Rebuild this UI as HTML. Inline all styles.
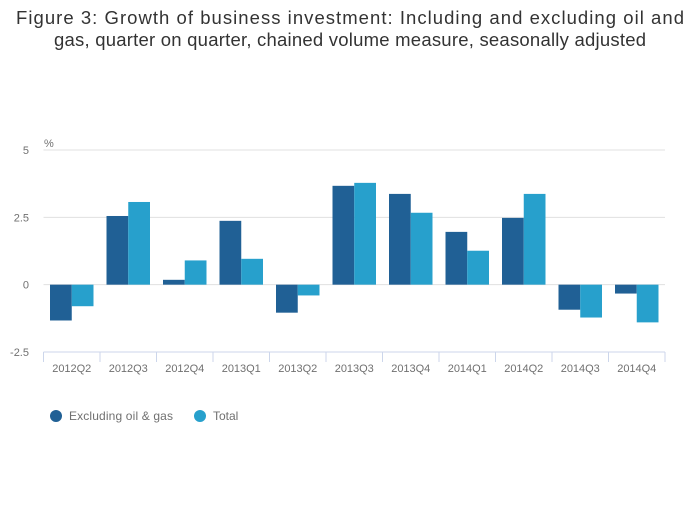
<!DOCTYPE html>
<html><head><meta charset="utf-8"><style>
body{margin:0;background:#fff;font-family:"Liberation Sans",sans-serif}
</style></head><body>
<svg width="700" height="502" xmlns="http://www.w3.org/2000/svg">
<text x="350" y="24" text-anchor="middle" font-size="18.5" fill="#333" textLength="668" lengthAdjust="spacing">Figure 3: Growth of business investment: Including and excluding oil and</text>
<text x="350" y="46" text-anchor="middle" font-size="18.5" fill="#333" textLength="592" lengthAdjust="spacing">gas, quarter on quarter, chained volume measure, seasonally adjusted</text>
<text x="44" y="147" font-size="11" fill="#707070">%</text>
<g id="grid"></g><g id="bars"></g><g id="xaxis"></g>
<g>
<circle cx="56" cy="416" r="6" fill="#206095"/>
<text x="69" y="420" font-size="12" fill="#707070" textLength="104" lengthAdjust="spacing">Excluding oil &amp; gas</text>
<circle cx="200" cy="416" r="6" fill="#27a0cc"/>
<text x="213" y="420" font-size="12" fill="#707070">Total</text>
</g>
</svg>
<script>
const categories=["2012Q2","2012Q3","2012Q4","2013Q1","2013Q2","2013Q3","2013Q4","2014Q1","2014Q2","2014Q3","2014Q4"];
const excluding=[-1.33,2.55,0.18,2.37,-1.04,3.67,3.37,1.96,2.48,-0.93,-0.33];
const total=[-0.8,3.07,0.9,0.96,-0.4,3.78,2.67,1.26,3.37,-1.22,-1.4];
const yTicks=[5,2.5,0,-2.5];
const yTickLabels=["5","2.5","0","-2.5"];
const NS="http://www.w3.org/2000/svg";
const x0=43.5,x1=665,yTop=150,yBot=352,vMax=5,vMin=-2.5;
const y=v=>yTop+(vMax-v)/(vMax-vMin)*(yBot-yTop);
const bw=(x1-x0)/categories.length;
function mk(t,a,p){const e=document.createElementNS(NS,t);for(const k in a)e.setAttribute(k,a[k]);p.appendChild(e);return e;}
const g=document.getElementById('grid'),b=document.getElementById('bars'),xa=document.getElementById('xaxis');
yTicks.forEach((t,i)=>{
 if(t!==vMin){const l=mk('line',{x1:x0,x2:x1,y1:y(t),y2:y(t),stroke:'#e0e0e0','stroke-width':1},g);
 
 }
 const tx=mk('text',{x:29,y:y(t)+4,'text-anchor':'end','font-size':11,fill:'#707070'},g);tx.textContent=yTickLabels[i];
 
 
});
categories.forEach((c,i)=>{
 const cx=x0+i*bw,w=(bw-13)/2;
 [[excluding,'#206095','bar-excluding'],[total,'#27a0cc','bar-total']].forEach(([s,col,n],j)=>{
  const v=s[i],r=mk('rect',{x:cx+6.5+j*w,y:Math.min(y(v),y(0)),width:w,height:Math.abs(y(v)-y(0)),fill:col},b);
  
  
 });
 const tk=mk('line',{x1:cx,x2:cx,y1:yBot,y2:yBot+10,stroke:'#ccd6eb'},xa);
 
 
 const t=mk('text',{x:cx+bw/2,y:yBot+20,'text-anchor':'middle','font-size':11,fill:'#707070',textLength:39,lengthAdjust:'spacing'},xa);t.textContent=c;
 
 
});
const le=mk('line',{x1:x1,x2:x1,y1:yBot,y2:yBot+10,stroke:'#ccd6eb'},xa);


const ax=mk('line',{x1:x0,x2:x1,y1:yBot,y2:yBot,stroke:'#ccd6eb'},xa);


</script>
</body></html>
